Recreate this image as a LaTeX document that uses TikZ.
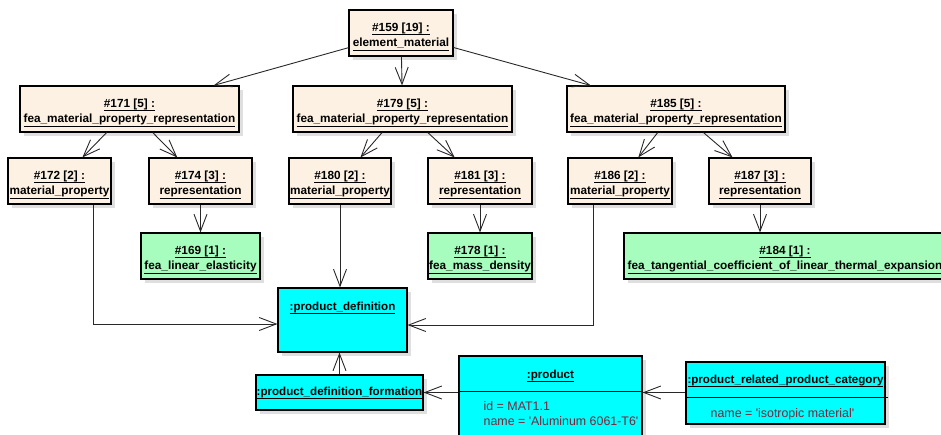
\documentclass[tikz,border=0pt]{standalone}
\usepackage{fontspec}
\setmainfont{Liberation Sans}[Ligatures=TeXOff]
\usetikzlibrary{arrows.meta,shadows,calc}
\definecolor{beige}{RGB}{252,241,226}
\definecolor{mint}{RGB}{166,253,190}
\definecolor{aqua}{RGB}{0,255,255}
\definecolor{attrc}{RGB}{125,35,55}
\definecolor{edgec}{RGB}{40,40,40}
\newcommand\uln[1]{\setbox0\hbox{#1}\rlap{\rule[-3.6pt]{\wd0}{0.9pt}}\box0}
\newcommand\twol[2]{\rule{0pt}{16pt}\uln{#1}\\\uln{#2}}
\tikzset{
  box/.style={draw=black, line width=1.1pt, inner sep=0pt, align=center,
    font=\fontsize{11.8}{15.5}\selectfont\bfseries,
    drop shadow={shadow xshift=3.5pt, shadow yshift=-3.5pt, fill=black!25, draw=none}},
  bbox/.style={box, fill=beige},
  gbox/.style={box, fill=mint},
  cbox/.style={box, fill=aqua},
  ttl/.style={inner sep=0pt, font=\fontsize{11.6}{15}\selectfont\bfseries, anchor=base},
  attr/.style={inner sep=0pt, font=\fontsize{12.4}{15}\selectfont, text=attrc, anchor=base west},
  divl/.style={draw=black, line width=1pt},
  conn/.style={draw=edgec, line width=0.9pt, -{Straight Barb[length=17pt,width=13pt,line width=0.9pt]}}
}
\begin{document}
\begin{tikzpicture}[x=1pt,y=-1pt]
\useasboundingbox (0,0) rectangle (941,434);
% top
\node[bbox, minimum width=104, minimum height=46] (n159) at (401,33) {\twol{\#159 [19] :}{element\_material}};
% second row
\node[bbox, minimum width=219, minimum height=46] (n171) at (129.5,109) {\twol{\#171 [5] :}{fea\_material\_property\_representation}};
\node[bbox, minimum width=219, minimum height=46] (n179) at (402.5,109) {\twol{\#179 [5] :}{fea\_material\_property\_representation}};
\node[bbox, minimum width=218, minimum height=46] (n185) at (676,109) {\twol{\#185 [5] :}{fea\_material\_property\_representation}};
% third row
\node[bbox, minimum width=103, minimum height=46] (n172) at (59.5,181) {\twol{\#172 [2] :}{material\_property}};
\node[bbox, minimum width=103, minimum height=46] (n174) at (200.5,181) {\twol{\#174 [3] :}{representation}};
\node[bbox, minimum width=102, minimum height=46] (n180) at (340,181) {\twol{\#180 [2] :}{material\_property}};
\node[bbox, minimum width=104, minimum height=46] (n181) at (480,181) {\twol{\#181 [3] :}{representation}};
\node[bbox, minimum width=104, minimum height=46] (n186) at (620,181) {\twol{\#186 [2] :}{material\_property}};
\node[bbox, minimum width=102, minimum height=46] (n187) at (760,181) {\twol{\#187 [3] :}{representation}};
% green row
\node[gbox, minimum width=119, minimum height=46] (n169) at (200.5,256) {\twol{\#169 [1] :}{fea\_linear\_elasticity}};
\node[gbox, minimum width=104, minimum height=46] (n178) at (480,256) {\twol{\#178 [1] :}{fea\_mass\_density}};
\node[gbox, minimum width=322, minimum height=46] (n184) at (785,256) {\twol{\#184 [1] :}{fea\_tangential\_coefficient\_of\_linear\_thermal\_expansion}};
% cyan boxes
\node[cbox, minimum width=129, minimum height=64] (pd) at (342.5,320) {};
\node[ttl] (pdt) at ($(pd.north)+(0,23)$) {\uln{:product\_definition}};
\node[cbox, minimum width=167, minimum height=35] (pdf) at (339.5,392.5) {};
\node[ttl] (pdft) at ($(pdf.north)+(0,21)$) {\uln{:product\_definition\_formation}};
\draw[divl] ($(pdf.north west)+(0,24)$) -- ($(pdf.north east)+(0,24)$);
\node[cbox, minimum width=183, minimum height=84] (product) at (550.5,398) {};
\node[ttl] (prt) at ($(product.north)+(0,23)$) {\uln{:product}};
\draw[divl] ($(product.north west)+(0,36.5)$) -- ($(product.north east)+(0,36.5)$);
\node[attr] (pra1) at ($(product.north west)+(25,55)$) {id = MAT1.1};
\node[attr] (pra2) at ($(product.north west)+(25,70)$) {name = 'Aluminum 6061-T6'};
\node[cbox, minimum width=199, minimum height=62] (prpc) at (785.5,393) {};
\node[ttl] (prpct) at ($(prpc.north)+(0,22)$) {\uln{:product\_related\_product\_category}};
\draw[divl] ($(prpc.north west)+(0,36)$) -- ($(prpc.north east)+(2,36)$);
\node[attr] (prpca) at ($(prpc.north west)+(25,56)$) {name = 'isotropic material'};
% connectors
\draw[conn] (n159) -- (n171);
\draw[conn] (n159) -- (n179);
\draw[conn] (n159) -- (n185);
\draw[conn] (n171) -- (n172);
\draw[conn] (n171) -- (n174);
\draw[conn] (n179) -- (n180);
\draw[conn] (n179) -- (n181);
\draw[conn] (n185) -- (n186);
\draw[conn] (n185) -- (n187);
\draw[conn] (n174) -- (n169);
\draw[conn] (n181) -- (n178);
\draw[conn] (n187.south) -- (n187.south |- n184.north);
\draw[conn] ($(n172.south)+(33.5,0)$) |- ($(pd.west)+(0,4)$);
\draw[conn] (n180.south) -- (n180.south |- pd.north);
\draw[conn] ($(n186.south)+(-27,0)$) |- ($(pd.east)+(0,5)$);
\draw[conn] (pdf.north) -- (pdf.north |- pd.south);
\draw[conn] (product.west |- pdf.east) -- (pdf.east);
\draw[conn] (prpc.west |- pdf.east) -- (product.east |- pdf.east);
\end{tikzpicture}
\end{document}
